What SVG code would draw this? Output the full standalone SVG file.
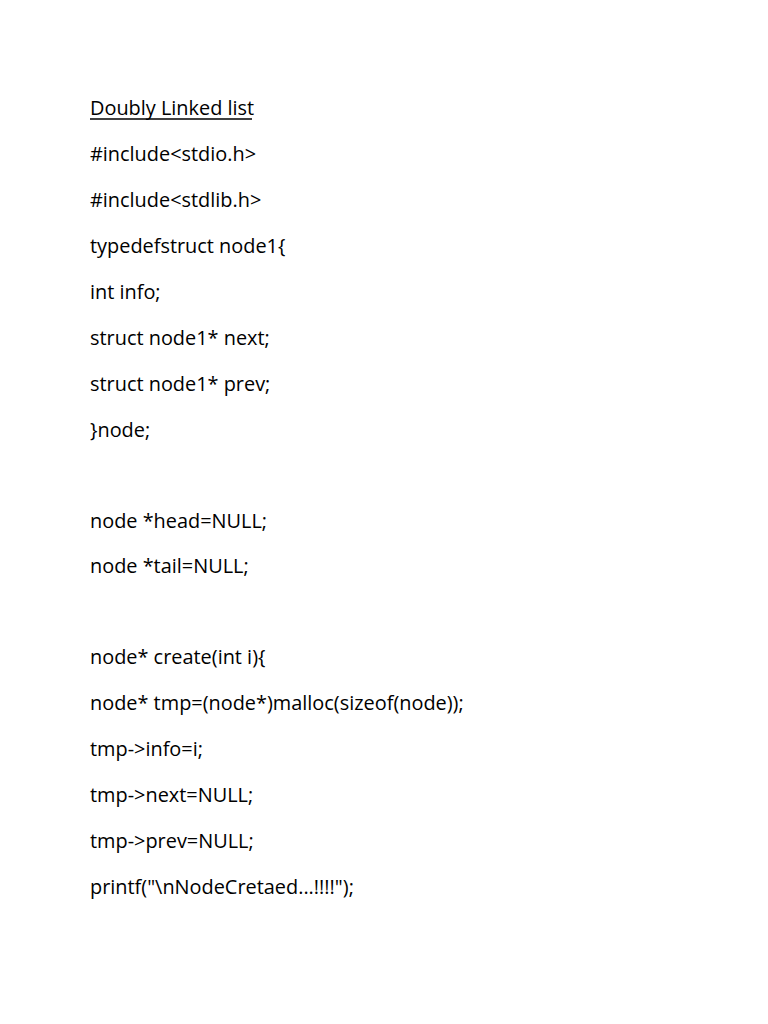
<svg xmlns="http://www.w3.org/2000/svg" width="768" height="1024" viewBox="0 0 768 1024">
<style>text{font-family:"Open Sans","Liberation Sans",sans-serif;font-size:19.9px;fill:#000}</style>
<rect width="768" height="1024" fill="#fff"/>
<text x="90" y="115">Doubly Linked list</text>
<line x1="90" y1="119" x2="252" y2="119" stroke="#000" stroke-width="1.3"/>
<text x="90" y="161">#include&lt;stdio.h&gt;</text>
<text x="90" y="207">#include&lt;stdlib.h&gt;</text>
<text x="90" y="253">typedefstruct node1{</text>
<text x="90" y="299">int info;</text>
<text x="90" y="345">struct node1* next;</text>
<text x="90" y="391">struct node1* prev;</text>
<text x="90" y="437">}node;</text>
<text x="90" y="528">node *head=NULL;</text>
<text x="90" y="573">node *tail=NULL;</text>
<text x="90" y="664">node* create(int i){</text>
<text x="90" y="710">node* tmp=(node*)malloc(sizeof(node));</text>
<text x="90" y="756">tmp-&gt;info=i;</text>
<text x="90" y="802">tmp-&gt;next=NULL;</text>
<text x="90" y="848">tmp-&gt;prev=NULL;</text>
<text x="90" y="894">printf("\nNodeCretaed...!!!!");</text>
</svg>
